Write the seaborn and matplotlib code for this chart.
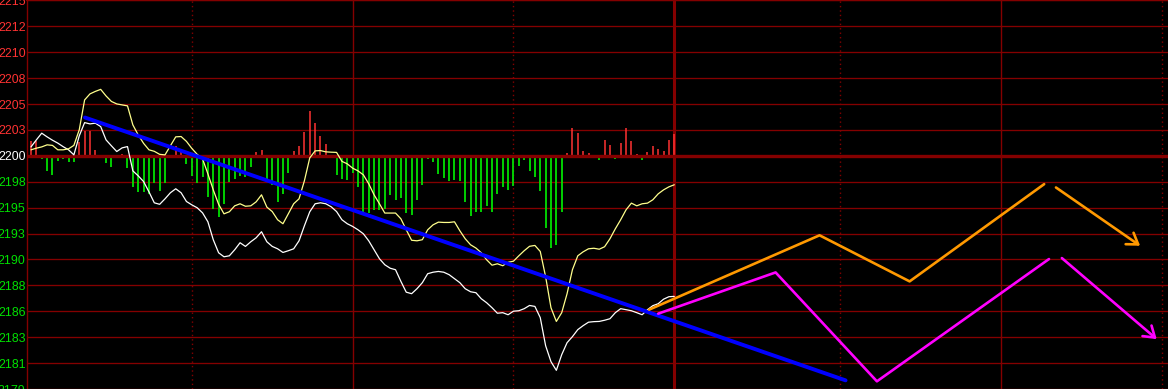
import numpy as np
import pandas as pd
import matplotlib
matplotlib.use("Agg")
import matplotlib.pyplot as plt
import seaborn as sns

# ---------------- data ----------------
minutes = list(range(121))

white_index = [
    2200.83, 2201.48, 2202.10, 2201.76, 2201.45, 2201.18, 2200.85, 2200.56, 2200.09, 2201.85,
    2203.08, 2202.96, 2203.03, 2202.71, 2201.48, 2200.93, 2200.40, 2200.74, 2200.86, 2198.61,
    2198.15, 2197.62, 2196.67, 2195.65, 2195.51, 2196.02, 2196.58, 2196.95, 2196.58, 2195.77,
    2195.46, 2195.19, 2194.72, 2193.89, 2192.23, 2191.02, 2190.65, 2190.74, 2191.30, 2191.95,
    2191.61, 2192.04, 2192.41, 2192.97, 2192.04, 2191.61, 2191.39, 2191.05, 2191.21, 2191.39,
    2192.13, 2193.52, 2194.82, 2195.56, 2195.65, 2195.56, 2195.28, 2194.84, 2194.08, 2193.71,
    2193.46, 2193.15, 2192.78, 2192.13, 2191.30, 2190.47, 2189.91, 2189.59, 2189.45, 2188.37,
    2187.37, 2187.23, 2187.69, 2188.25, 2189.08, 2189.22, 2189.29, 2189.22, 2188.99, 2188.62,
    2188.25, 2187.69, 2187.41, 2187.32, 2186.76, 2186.39, 2185.93, 2185.42, 2185.47, 2185.28,
    2185.61, 2185.65, 2185.84, 2186.14, 2186.05, 2185.01, 2182.41, 2180.93, 2180.13, 2181.58,
    2182.69, 2183.25, 2183.90, 2184.27, 2184.59, 2184.64, 2184.66, 2184.77, 2184.91, 2185.47,
    2185.84, 2185.75, 2185.65, 2185.47, 2185.28, 2185.75, 2186.12, 2186.30, 2186.72, 2186.95,
    2186.98,
]

yellow_index = [
    2200.56, 2200.71, 2200.83, 2201.02, 2200.97, 2200.56, 2200.56, 2200.65, 2200.97, 2202.41,
    2205.18, 2205.74, 2205.97, 2206.16, 2205.55, 2205.04, 2204.81, 2204.72, 2204.63, 2202.87,
    2201.94, 2201.16, 2200.56, 2200.42, 2200.14, 2200.09, 2200.93, 2201.76, 2201.79, 2201.34,
    2200.69, 2200.14, 2199.72, 2198.33, 2196.85, 2195.51, 2194.63, 2194.82, 2195.37, 2195.56,
    2195.33, 2195.37, 2195.74, 2196.39, 2195.25, 2194.84, 2194.08, 2193.71, 2194.63, 2195.56,
    2196.02, 2197.69, 2199.81, 2200.46, 2200.49, 2200.37, 2200.34, 2200.32, 2199.49, 2199.26,
    2198.86, 2198.61, 2198.24, 2197.41, 2196.39, 2195.56, 2194.70, 2194.70, 2194.70, 2194.17,
    2193.15, 2192.18, 2192.13, 2192.23, 2193.15, 2193.61, 2193.86, 2193.83, 2193.83, 2193.89,
    2193.06, 2192.32, 2191.76, 2191.46, 2191.02, 2190.37, 2189.87, 2190.00, 2189.82, 2190.14,
    2190.24, 2190.74, 2191.21, 2191.62, 2191.70, 2191.14, 2188.80, 2185.93, 2184.66, 2185.47,
    2187.23, 2189.45, 2190.74, 2191.11, 2191.39, 2191.44, 2191.35, 2191.58, 2192.32, 2193.24,
    2194.08, 2195.00, 2195.62, 2195.37, 2195.56, 2195.62, 2195.93, 2196.48, 2196.85, 2197.13,
    2197.32,
]

strength = [
    1.42, 1.42, -0.28, -1.36, -1.82, -0.46, -0.28, -0.56, -0.56, 1.32,
    2.34, 2.34, 0.56, -0.09, -0.62, -0.99, -0.09, 0.19, -1.14, -2.90,
    -3.36, -3.36, -3.55, -2.47, -3.30, -2.47, -0.09, 0.93, 0.40, -0.74,
    -1.85, -2.47, -1.92, -3.77, -4.93, -5.62, -4.44, -2.38, -2.16, -1.85,
    -1.94, -0.99, 0.40, 0.56, -2.38, -2.68, -4.32, -3.52, -1.55, 0.49,
    0.93, 2.22, 4.17, 3.05, 1.85, 1.11, 0.09, -1.76, -2.10, -2.22,
    -1.60, -2.93, -5.30, -5.30, -5.00, -5.00, -4.93, -3.61, -4.07, -3.92,
    -5.25, -5.46, -4.07, -2.68, -0.28, -0.53, -1.67, -2.01, -2.31, -2.22,
    -2.31, -4.32, -5.53, -5.16, -5.16, -4.69, -5.16, -3.52, -2.84, -3.15,
    -2.78, -0.93, -0.37, -1.39, -1.92, -3.30, -6.69, -8.54, -8.24, -5.16,
    0.31, 2.62, 2.16, 0.46, 0.31, -0.05, -0.37, 1.48, 1.02, -0.28,
    1.23, 2.62, 1.42, 0.19, -0.37, 0.40, 0.93, 0.65, 0.46, 1.48,
    2.04,
]

base_price = 2200.0
tick_step = 2.4
tick_labels = ["2179", "2181", "2183", "2186", "2188", "2190", "2193", "2195",
               "2198", "2200", "2203", "2205", "2208", "2210", "2212", "2215"]

trend_x = [10.07, 151.95]
trend_y = [2203.55, 2179.20]

orange_x = [115.3, 147.1, 163.9, 189.0]
orange_y = [2185.75, 2192.64, 2188.37, 2197.38]
orange_arrow_x = [191.2, 206.9]
orange_arrow_y = [2197.07, 2191.67]

magenta_x = [117.0, 138.9, 157.8, 189.9]
magenta_y = [2185.38, 2189.20, 2179.11, 2190.44]
magenta_arrow_x = [192.3, 210.0]
magenta_arrow_y = [2190.53, 2183.02]

time_marks_dotted = [30, 90, 151, 211]
time_marks_solid = [60, 181]
session_break = 120

# ---------------- style ----------------
sns.set_theme(style="dark")
plt.rcParams["font.family"] = ["Liberation Sans", "DejaVu Sans"]

GRID = "#840000"
RED = "#ff3232"
GREEN = "#00e000"

W, H = 1168, 389
fig = plt.figure(figsize=(W / 100, H / 100), dpi=100, facecolor="black")
left = 27 / W
ax = fig.add_axes([left, 0, 1 - left, 1])
ax.set_facecolor("black")

ylo = base_price - tick_step * (389 - 156) / 25.93
yhi = base_price + tick_step * 156 / 25.93
ax.set_xlim(-0.746, 212.1)
ax.set_ylim(ylo, yhi)

ticks = base_price + tick_step * np.arange(-9, 7)

# grid
for t in ticks:
    if abs(t - base_price) < 1e-6:
        continue
    ax.axhline(t, color=GRID, lw=0.95, zorder=1)
for m in time_marks_dotted:
    ax.axvline(m, color=GRID, lw=1.0, ls=(0, (1, 2.2)), zorder=1)
for m in time_marks_solid:
    ax.axvline(m, color=GRID, lw=1.0, zorder=1)
ax.axvline(session_break, color=GRID, lw=2.2, zorder=1)

# strength bars
df_bar = pd.DataFrame({"minute": minutes, "strength": strength})
pos = df_bar[df_bar.strength > 0]
neg = df_bar[df_bar.strength <= 0]
ax.vlines(pos.minute, base_price, base_price + pos.strength, color=RED, lw=1.1, zorder=2)
ax.vlines(neg.minute, base_price, base_price + neg.strength, color=GREEN, lw=1.3, zorder=2)
ax.axhline(base_price, color=GRID, lw=2.4, zorder=3)

# index lines
df = pd.DataFrame({"minute": minutes, "white": white_index, "yellow": yellow_index})
sns.lineplot(data=df, x="minute", y="white", color="white", lw=0.9, ax=ax, zorder=4)
sns.lineplot(data=df, x="minute", y="yellow", color="#ffff8c", lw=0.9, ax=ax, zorder=4)

# trend line
sns.lineplot(x=trend_x, y=trend_y, color="#0000ff", lw=2.8, ax=ax, zorder=5)

# projections
sns.lineplot(x=orange_x, y=orange_y, color="#ff9900", lw=1.9, sort=False, estimator=None, ax=ax, zorder=6)
sns.lineplot(x=magenta_x, y=magenta_y, color="#ff00ff", lw=1.9, sort=False, estimator=None, ax=ax, zorder=6)
for xs, ys, col in [(orange_arrow_x, orange_arrow_y, "#ff9900"),
                    (magenta_arrow_x, magenta_arrow_y, "#ff00ff")]:
    ax.annotate("", xy=(xs[1], ys[1]), xytext=(xs[0], ys[0]),
                arrowprops=dict(arrowstyle="->,head_length=0.75,head_width=0.5",
                                color=col, lw=1.9, shrinkA=0, shrinkB=0,
                                mutation_scale=10),
                zorder=6)

# axes decoration
ax.set_xlabel("")
ax.set_ylabel("")
ax.set_xticks([])
ax.set_yticks(ticks, tick_labels)
ax.tick_params(axis="y", length=0, pad=1.0, labelsize=8.9)
for lab, t in zip(ax.get_yticklabels(), ticks):
    if abs(t - base_price) < 1e-6:
        lab.set_color("white")
    elif t > base_price:
        lab.set_color(RED)
    else:
        lab.set_color(GREEN)
for s in ["right", "bottom"]:
    ax.spines[s].set_visible(False)
ax.spines["left"].set_color(GRID)
ax.spines["left"].set_linewidth(1.0)
ax.spines["top"].set_color(GRID)
ax.spines["top"].set_linewidth(1.6)
ax.grid(False)
if ax.get_legend():
    ax.get_legend().remove()

fig.savefig("out.png", dpi=100, facecolor="black")
